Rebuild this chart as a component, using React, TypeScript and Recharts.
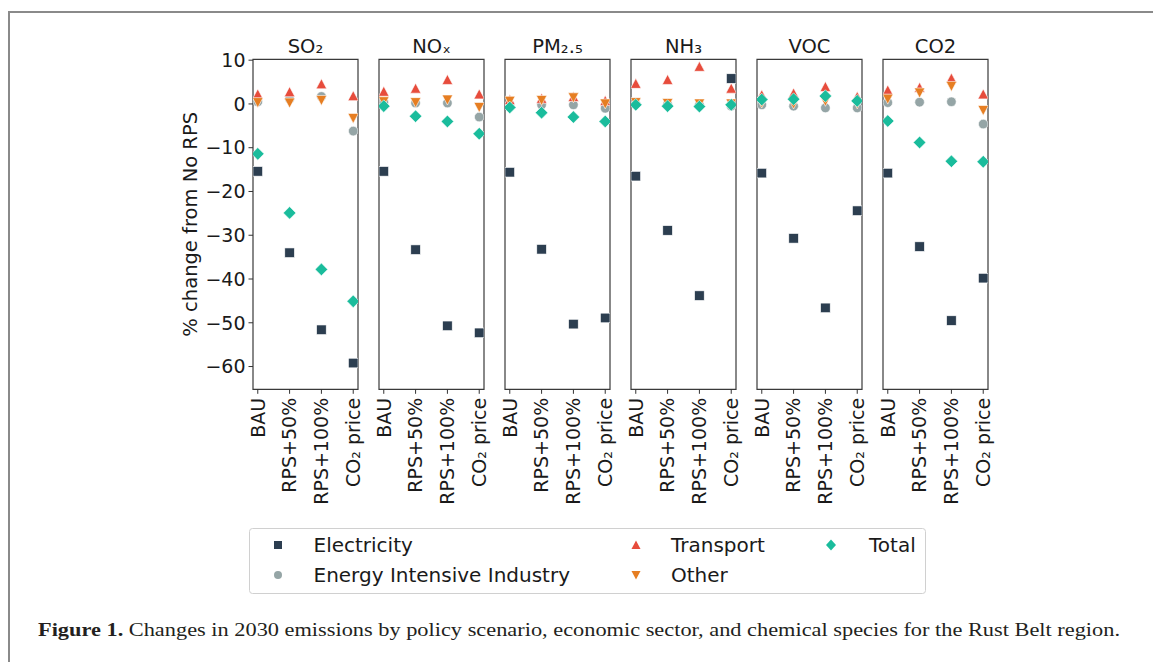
import React from "react";
import {
  ScatterChart,
  Scatter,
  XAxis,
  YAxis,
  ReferenceArea,
} from "recharts";

// ---------- data ----------
const categories = ["BAU", "RPS+50%", "RPS+100%", "CO₂ price"];
const species = ["SO₂", "NOₓ", "PM₂.₅", "NH₃", "VOC", "CO2"];
const yTicks = [-60, -50, -40, -30, -20, -10, 0, 10];

// one row per species, one value per scenario (% change from No RPS)
const electricity = [
  [-15.4, -34.0, -51.6, -59.2],
  [-15.4, -33.3, -50.7, -52.3],
  [-15.6, -33.2, -50.3, -48.9],
  [-16.5, -28.9, -43.8, 5.8],
  [-15.8, -30.7, -46.6, -24.4],
  [-15.8, -32.6, -49.5, -39.8],
];
const industry = [
  [0.5, 1.1, 1.7, -6.2],
  [0.4, 0.2, 0.2, -3.0],
  [-0.2, -0.2, -0.2, -1.0],
  [0.0, -0.1, -0.2, -0.5],
  [-0.2, -0.5, -0.9, -0.9],
  [0.3, 0.4, 0.5, -4.6],
];
const transport = [
  [2.3, 2.8, 4.6, 1.9],
  [2.9, 3.6, 5.6, 2.3],
  [1.0, 1.3, 1.7, 0.8],
  [4.7, 5.6, 8.6, 3.6],
  [2.1, 2.5, 4.0, 1.7],
  [3.2, 3.8, 5.9, 2.3],
];
const other = [
  [0.3, 0.2, 0.8, -3.3],
  [0.5, 0.3, 0.9, -0.8],
  [0.6, 0.8, 1.4, 0.0],
  [0.3, 0.1, 0.0, 0.0],
  [0.2, 0.0, 0.6, 0.0],
  [1.1, 2.5, 4.0, -1.5],
];
const total = [
  [-11.4, -24.9, -37.8, -45.1],
  [-0.5, -2.8, -4.0, -6.8],
  [-0.8, -2.0, -3.0, -4.0],
  [-0.2, -0.5, -0.6, -0.2],
  [1.0, 1.1, 1.8, 0.7],
  [-3.9, -8.8, -13.1, -13.2],
];

const sectorNames = ["Electricity", "Energy Intensive Industry", "Transport", "Other", "Total"];

// ---------- style / layout ----------
const COLORS = {
  elec: "#2c3e50",
  ind: "#95a5a6",
  trans: "#e74c3c",
  other: "#e67e22",
  total: "#1abc9c",
};
const FONT = "'DejaVu Sans', sans-serif";
const TICK_FS = 19;
const PANEL_TOP = 59.3;
const PANEL_H = 330;
const PANEL_W = 105;
const PANEL_LEFTS = [252.8, 378.9, 505, 631.1, 757.2, 883.3];
const Y_DOMAIN: [number, number] = [-65.2, 10.2];
const X_DOMAIN: [number, number] = [-0.15, 3.15];
const LEFT_SPACE = 90;
const RIGHT_SPACE = 15;
const CHART_H = 520;

// ---------- marker shapes ----------
const SquareShape = (p: any) => {
  const s = 9.6;
  return <rect x={p.cx - s / 2} y={p.cy - s / 2} width={s} height={s} fill={COLORS.elec} stroke="#ffffff" strokeWidth={0.6} />;
};
const CircleShape = (p: any) => (
  <circle cx={p.cx} cy={p.cy} r={4.8} fill={COLORS.ind} stroke="#ffffff" strokeWidth={0.6} />
);
const TriUpShape = (p: any) => {
  const w = 5.3, h = 5;
  return (
    <path d={`M${p.cx},${p.cy - h} L${p.cx + w},${p.cy + h} L${p.cx - w},${p.cy + h} Z`} fill={COLORS.trans} stroke="#ffffff" strokeWidth={0.6} />
  );
};
const TriDownShape = (p: any) => {
  const w = 5.3, h = 5;
  return (
    <path d={`M${p.cx},${p.cy + h} L${p.cx + w},${p.cy - h} L${p.cx - w},${p.cy - h} Z`} fill={COLORS.other} stroke="#ffffff" strokeWidth={0.6} />
  );
};
const DiamondShape = (p: any) => {
  const r = 6.3;
  return (
    <path d={`M${p.cx},${p.cy - r} L${p.cx + r},${p.cy} L${p.cx},${p.cy + r} L${p.cx - r},${p.cy} Z`} fill={COLORS.total} stroke="#ffffff" strokeWidth={0.6} />
  );
};

const toPoints = (vals: number[]) => vals.map((v, i) => ({ x: i, y: v }));
const fmtMinus = (v: number) => String(v).replace("-", "\u2212");

const XTick = (props: any) => {
  const { x, y, payload } = props;
  return (
    <g transform={`translate(${x},${y})`}>
      <text
        transform="rotate(-90)"
        x={0}
        y={0}
        dy="0.36em"
        textAnchor="end"
        fontFamily={FONT}
        fontSize={TICK_FS}
        fill="#1a1a1a"
      >
        {categories[payload.value]}
      </text>
    </g>
  );
};

const YLabel = (props: any) => {
  const vb = props.viewBox || { x: 0, y: PANEL_TOP, width: LEFT_SPACE, height: PANEL_H };
  const cx = vb.x + 27.5;
  const cy = vb.y + vb.height / 2;
  return (
    <text
      x={cx}
      y={cy}
      transform={`rotate(-90, ${cx}, ${cy})`}
      textAnchor="middle"
      dominantBaseline="central"
      fontFamily={FONT}
      fontSize={19.5}
      fill="#1a1a1a"
    >
      % change from No RPS
    </text>
  );
};

function Panel({ idx }: { idx: number }) {
  const first = idx === 0;
  const left = PANEL_LEFTS[idx] - LEFT_SPACE;
  return (
    <div style={{ position: "absolute", left, top: 0 }}>
      <ScatterChart
        width={LEFT_SPACE + PANEL_W + RIGHT_SPACE}
        height={CHART_H}
        margin={{ top: PANEL_TOP, right: RIGHT_SPACE, bottom: 0, left: first ? 0 : LEFT_SPACE }}
      >
        <XAxis
          type="number"
          dataKey="x"
          domain={X_DOMAIN}
          ticks={[0, 1, 2, 3]}
          allowDataOverflow
          axisLine={false}
          tickLine={{ stroke: "#333333", strokeWidth: 1 }}
          tickSize={4.5}
          tickMargin={4}
          height={CHART_H - PANEL_TOP - PANEL_H}
          interval={0}
          tick={<XTick />}
        />
        <YAxis
          type="number"
          dataKey="y"
          domain={Y_DOMAIN}
          ticks={yTicks}
          allowDataOverflow
          hide={!first}
          width={LEFT_SPACE}
          axisLine={false}
          tickLine={{ stroke: "#333333", strokeWidth: 1 }}
          tickSize={4.5}
          tickMargin={3}
          tickFormatter={fmtMinus}
          tick={{ fontFamily: FONT, fontSize: TICK_FS, fill: "#1a1a1a" }}
          interval={0}
          label={first ? <YLabel /> : undefined}
        />
        <ReferenceArea
          x1={X_DOMAIN[0]}
          x2={X_DOMAIN[1]}
          y1={Y_DOMAIN[0]}
          y2={Y_DOMAIN[1]}
          fill="none"
          stroke="#3a3a3a"
          strokeWidth={1.2}
          ifOverflow="visible"
          label={{
            value: species[idx],
            position: "top",
            offset: 6,
            fontFamily: FONT,
            fontSize: 19.5,
            fill: "#1a1a1a",
          }}
        />
        <Scatter name={sectorNames[0]} data={toPoints(electricity[idx])} shape={SquareShape} isAnimationActive={false} />
        <Scatter name={sectorNames[1]} data={toPoints(industry[idx])} shape={CircleShape} isAnimationActive={false} />
        <Scatter name={sectorNames[2]} data={toPoints(transport[idx])} shape={TriUpShape} isAnimationActive={false} />
        <Scatter name={sectorNames[3]} data={toPoints(other[idx])} shape={TriDownShape} isAnimationActive={false} />
        <Scatter name={sectorNames[4]} data={toPoints(total[idx])} shape={DiamondShape} isAnimationActive={false} />
      </ScatterChart>
    </div>
  );
}

function LegendMarker({ kind, x, y }: { kind: number; x: number; y: number }) {
  if (kind === 0) return <rect x={x - 4} y={y - 4} width={8} height={8} fill={COLORS.elec} />;
  if (kind === 1) return <circle cx={x} cy={y} r={4} fill={COLORS.ind} />;
  if (kind === 2) return <path d={`M${x},${y - 4.5} L${x + 4.5},${y + 4} L${x - 4.5},${y + 4} Z`} fill={COLORS.trans} />;
  if (kind === 3) return <path d={`M${x},${y + 4.5} L${x + 4.5},${y - 4} L${x - 4.5},${y - 4} Z`} fill={COLORS.other} />;
  return <path d={`M${x},${y - 5.5} L${x + 5},${y} L${x},${y + 5.5} L${x - 5},${y} Z`} fill={COLORS.total} />;
}

const legendSlots = [
  { kind: 0, mx: 278, tx: 313.5, y: 545 },
  { kind: 1, mx: 278, tx: 313.5, y: 575 },
  { kind: 2, mx: 636, tx: 671, y: 545 },
  { kind: 3, mx: 636, tx: 671, y: 575 },
  { kind: 4, mx: 831, tx: 869, y: 545 },
];

export default function App() {
  return (
    <div style={{ position: "absolute", left: 0, top: 0, width: 1153, height: 662, background: "#ffffff", overflow: "hidden" }}>
      <svg width={1153} height={662} style={{ position: "absolute", left: 0, top: 0 }}>
        {/* frame */}
        <line x1={9} y1={12} x2={1153} y2={12} stroke="#8a8a8a" strokeWidth={2} />
        <line x1={9} y1={11} x2={9} y2={662} stroke="#8a8a8a" strokeWidth={2} />
        {/* legend */}
        <rect x={249.5} y={528.5} width={676} height={65} rx={3} ry={3} fill="#ffffff" stroke="#d0d0d0" strokeWidth={1} />
        {legendSlots.map((s) => (
          <g key={s.kind}>
            <LegendMarker kind={s.kind} x={s.mx} y={s.y} />
            <text x={s.tx} y={s.y} dominantBaseline="central" fontFamily={FONT} fontSize={20} fill="#1a1a1a">
              {sectorNames[s.kind]}
            </text>
          </g>
        ))}
        {/* caption */}
        <text x={38} y={636} fontFamily="'Liberation Serif', serif" fontSize={19} fill="#231f20" textLength={1082} lengthAdjust="spacingAndGlyphs">
          <tspan fontWeight="bold">Figure 1.</tspan> Changes in 2030 emissions by policy scenario, economic sector, and chemical species for the Rust Belt region.
        </text>
      </svg>
      {species.map((_, i) => (
        <Panel key={i} idx={i} />
      ))}
    </div>
  );
}
